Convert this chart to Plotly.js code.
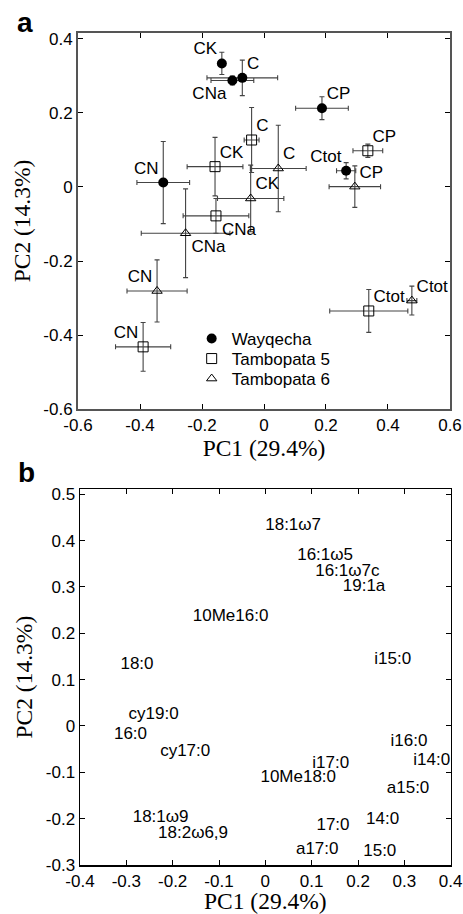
<!DOCTYPE html>
<html>
<head>
<meta charset="utf-8">
<script src="https://cdn.plot.ly/plotly-3.0.1.min.js"></script>
<style>html,body{margin:0;padding:0;background:#fff;}#chart{width:463px;height:914px;}</style>
</head>
<body>
<div id="chart"></div>
<script>
// ---------- Panel a data ----------
var wayLabels = ['CK','C','CNa','CP','CN','Ctot'];
var wayX  = [-0.136,-0.070,-0.102, 0.187,-0.325, 0.265];
var wayY  = [ 0.334, 0.295, 0.288, 0.213, 0.012, 0.044];
var wayEx = [ 0.000, 0.114, 0.069, 0.085, 0.085, 0.031];
var wayEy = [ 0.030, 0.048, 0.012, 0.031, 0.111, 0.022];

var t5Labels = ['C','CK','CNa','CP','Ctot','CN'];
var t5X  = [-0.040,-0.158,-0.155, 0.335, 0.338,-0.390];
var t5Y  = [ 0.127, 0.055,-0.078, 0.098,-0.335,-0.432];
var t5Ex = [ 0.024, 0.090, 0.106, 0.048, 0.126, 0.089];
var t5Ey = [ 0.088, 0.079, 0.047, 0.018, 0.058, 0.066];

var t6Labels = ['C','CK','CNa','CN','CP','Ctot'];
var t6X  = [ 0.046,-0.043,-0.253,-0.345, 0.293, 0.477];
var t6Y  = [ 0.050,-0.031,-0.125,-0.281, 0.001,-0.307];
var t6Ex = [ 0.090, 0.107, 0.143, 0.097, 0.083, 0.016];
var t6Ey = [ 0.117, 0.090, 0.120, 0.084, 0.056, 0.039];

var seriesNames = ['Wayqecha','Tambopata 5','Tambopata 6'];

var aXTicks = [-0.6,-0.4,-0.2,0,0.2,0.4,0.6];
var aXText  = ['-0.6','-0.4','-0.2','0','0.2','0.4','0.6'];
var aYTicks = [-0.6,-0.4,-0.2,0,0.2,0.4];
var aYText  = ['-0.6','-0.4','-0.2','0','0.2','0.4'];

// ---------- Panel b data ----------
var faLabels = ['18:1ω7','16:1ω5','16:1ω7c','19:1a','10Me16:0','18:0','i15:0','cy19:0','16:0','cy17:0',
                'i16:0','i14:0','i17:0','10Me18:0','a15:0','18:1ω9','18:2ω6,9','17:0','14:0','a17:0','15:0'];
var faX = [ 0.060, 0.129, 0.177, 0.213,-0.075,-0.277, 0.275,-0.241,-0.291,-0.173,
            0.310, 0.359, 0.141, 0.071, 0.308,-0.226,-0.156, 0.146, 0.253, 0.112, 0.247];
var faY = [ 0.432, 0.367, 0.332, 0.300, 0.235, 0.132, 0.143, 0.024,-0.019,-0.055,
           -0.035,-0.075,-0.081,-0.112,-0.135,-0.199,-0.233,-0.216,-0.203,-0.267,-0.271];

var bXTicks = [-0.4,-0.3,-0.2,-0.1,0,0.1,0.2,0.3,0.4];
var bXText  = ['-0.4','-0.3','-0.2','-0.1','0','0.1','0.2','0.3','0.4'];
var bYTicks = [-0.3,-0.2,-0.1,0,0.1,0.2,0.3,0.4,0.5];
var bYText  = ['-0.3','-0.2','-0.1','0','0.1','0.2','0.3','0.4','0.5'];

// ---------- styles ----------
var SANS = 'Liberation Sans, Arial, sans-serif';
var SERIF = 'Liberation Serif, Times New Roman, serif';
var FS = 17;
var errCol = '#444';

// label placement styles (per point of each series)
var wayPos = ['top left','top right','bottom left','top right','top left','top left'];
var t5Pos  = ['top right','top right','bottom right','top right','top right','top left'];
var t6Pos  = ['top right','top right','bottom right','top left','top right','top right'];
function padFor(pos) { return pos.map(function(p){ return p.indexOf('bottom') === 0 ? 8 : 6; }); }

function seriesTrace(name, x, y, ex, ey, marker, legendId) {
  return {type:'scatter', mode:'markers', name:name, x:x, y:y, marker:marker,
          xaxis:'x', yaxis:'y', cliponaxis:false, legend:legendId,
          error_x:{type:'data', array:ex, visible:true, color:errCol, thickness:1.1, width:2.5},
          error_y:{type:'data', array:ey, visible:true, color:errCol, thickness:1.1, width:2.5}};
}
function labelTrace(x, y, labels, pos) {
  return {type:'scatter', mode:'markers+text', x:x, y:y, text:labels, textposition:pos,
          marker:{size:padFor(pos), color:'rgba(0,0,0,0)', opacity:0,
                  line:{width:0, color:'rgba(0,0,0,0)'}},
          showlegend:false, hoverinfo:'skip',
          textfont:{family:SANS, size:FS, color:'#000'}, xaxis:'x', yaxis:'y', cliponaxis:false};
}

var mkCircle = {symbol:'circle', size:10, color:'#000', line:{width:0}};
var mkSquare = {symbol:'square-open', size:10, color:'#000', line:{width:1}};
var mkTri    = {symbol:'triangle-up-open', size:9, color:'#000', line:{width:1}};

var traces = [
  seriesTrace(seriesNames[0], wayX, wayY, wayEx, wayEy, mkCircle, 'legend'),
  seriesTrace(seriesNames[1], t5X, t5Y, t5Ex, t5Ey, mkSquare, 'legend2'),
  seriesTrace(seriesNames[2], t6X, t6Y, t6Ex, t6Ey, mkTri, 'legend3'),
  labelTrace(wayX, wayY, wayLabels, wayPos),
  labelTrace(t5X, t5Y, t5Labels, t5Pos),
  labelTrace(t6X, t6Y, t6Labels, t6Pos),
  {type:'scatter', mode:'text', x:faX, y:faY, text:faLabels, textposition:'middle center',
   textfont:{family:SANS, size:FS, color:'#000'}, showlegend:false, hoverinfo:'skip',
   xaxis:'x2', yaxis:'y2', cliponaxis:false}
];

function axisBase(extra) {
  var a = {
    showgrid:false, zeroline:false, showline:true, mirror:'ticks',
    ticks:'inside', ticklen:5, tickwidth:1, tickcolor:'#000',
    tickmode:'array', tickfont:{family:SANS, size:FS, color:'#000'},
    fixedrange:true
  };
  for (var k in extra) a[k] = extra[k];
  return a;
}
function legendAt(yPix) {
  return {x:0.414, y:1 - yPix/914, xanchor:'left', yanchor:'middle', bgcolor:'rgba(0,0,0,0)',
          font:{family:SANS, size:FS, color:'#000'}, itemwidth:30};
}
var titleFont = {family:SERIF, size:23.5, color:'#000'};

var layout = {
  width:463, height:914,
  margin:{l:0, r:0, t:0, b:0},
  paper_bgcolor:'#fff', plot_bgcolor:'#fff',
  showlegend:true,
  legend: legendAt(339),
  legend2: legendAt(359),
  legend3: legendAt(379),
  xaxis: axisBase({domain:[0.1685,0.9719], anchor:'y', range:[-0.6,0.6],
    tickvals:aXTicks, ticktext:aXText, linecolor:'#555', linewidth:2,
    title:{text:'PC1 (29.4%)', font:titleFont, standoff:4}}),
  yaxis: axisBase({domain:[0.5525,0.9639], anchor:'x', range:[-0.6,0.4162],
    tickvals:aYTicks, ticktext:aYText, linecolor:'#555', linewidth:2,
    title:{text:'PC2 (14.3%)', font:titleFont, standoff:6}}),
  xaxis2: axisBase({domain:[0.1728,0.9734], anchor:'y2', range:[-0.4,0.4],
    tickvals:bXTicks, ticktext:bXText, linecolor:'#000', linewidth:1.5,
    title:{text:'PC1 (29.4%)', font:titleFont, standoff:2}}),
  yaxis2: axisBase({domain:[0.0536,0.4647], anchor:'x2', range:[-0.3,0.5108],
    tickvals:bYTicks, ticktext:bYText, linecolor:'#000', linewidth:1.5,
    title:{text:'PC2 (14.3%)', font:titleFont, standoff:6}}),
  annotations:[
    {text:'<b>a</b>', xref:'paper', yref:'paper', x:25/463, y:1-23/914, xanchor:'center', yanchor:'middle',
     showarrow:false, font:{family:SANS, size:28, color:'#000'}},
    {text:'<b>b</b>', xref:'paper', yref:'paper', x:26/463, y:1-472/914, xanchor:'center', yanchor:'middle',
     showarrow:false, font:{family:SANS, size:28, color:'#000'}}
  ]
};

Plotly.newPlot('chart', traces, layout, {staticPlot:true, displayModeBar:false});
</script>
</body>
</html>
